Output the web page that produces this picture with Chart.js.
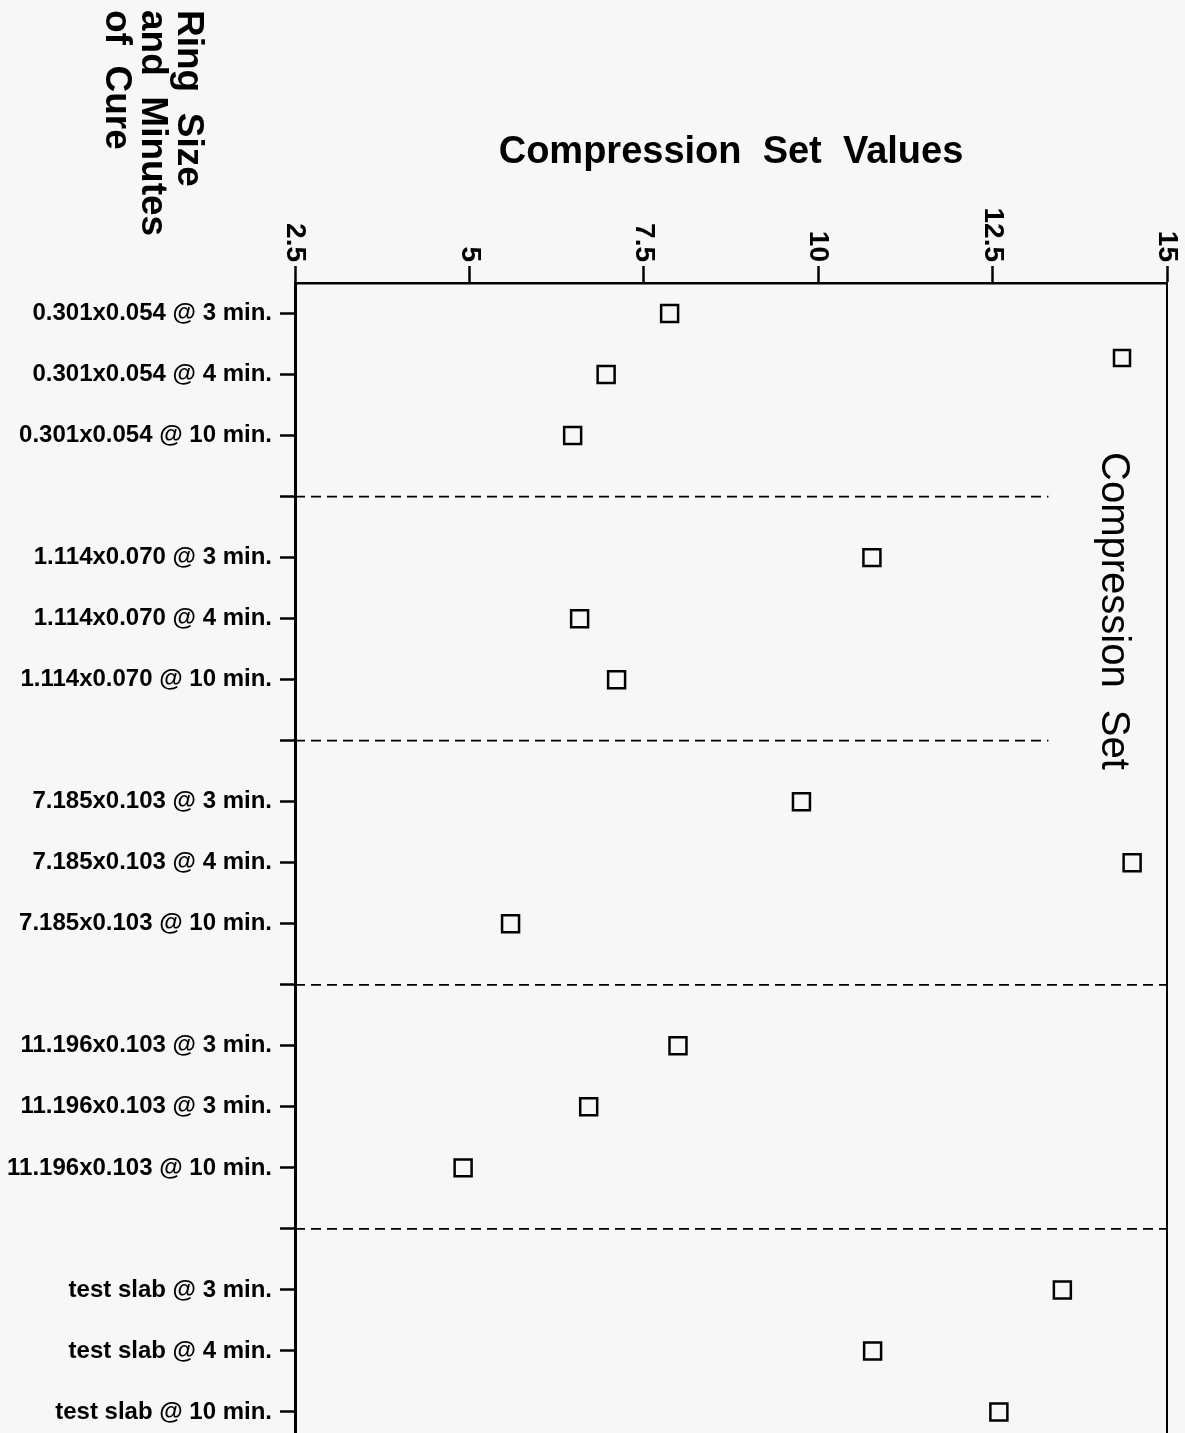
<!DOCTYPE html>
<html>
<head>
<meta charset="utf-8">
<title>Compression Set Values</title>
<script src="https://cdn.jsdelivr.net/npm/chart.js@4.4.1/dist/chart.umd.min.js"></script>
<style>
    html, body { margin: 0; padding: 0; background: #f7f7f7; overflow: hidden; }
    .contenedor { position: relative; width: 1185px; height: 1457px; }
</style>
</head>
<body>
<div class="contenedor"><canvas id="Grafico"></canvas></div>
<script>
const categorias = [
    '0.301x0.054 @ 3 min.', '0.301x0.054 @ 4 min.', '0.301x0.054 @ 10 min.',
    '1.114x0.070 @ 3 min.', '1.114x0.070 @ 4 min.', '1.114x0.070 @ 10 min.',
    '7.185x0.103 @ 3 min.', '7.185x0.103 @ 4 min.', '7.185x0.103 @ 10 min.',
    '11.196x0.103 @ 3 min.', '11.196x0.103 @ 3 min.', '11.196x0.103 @ 10 min.',
    'test slab @ 3 min.', 'test slab @ 4 min.', 'test slab @ 10 min.'
];
const valores = [7.87, 6.96, 6.48, 10.77, 6.58, 7.11, 9.76, 14.5, 5.59, 7.99, 6.71, 4.91, 13.5, 10.78, 12.59];
const ticksX = [2.5, 5, 7.5, 10, 12.5, 15];
const finSeparadores = [13.3, 13.3, 15, 15];
const tituloX = 'Compression  Set  Values';
const tituloY = ['Ring  Size', 'and  Minutes', 'of  Cure'];
const leyenda = 'Compression  Set';

const fuente = '"Liberation Sans", Arial, Helvetica, sans-serif';

// each group of 3 rows is followed by an empty slot for the dashed separator
function posicion(i) { return i + Math.floor(i / 3); }
const totalPosiciones = categorias.length + finSeparadores.length;

const etiquetasY = {};
categorias.forEach((c, i) => { etiquetasY[posicion(i)] = c; });

const puntos = categorias.map((c, i) => ({ x: valores[i], y: posicion(i) }));

const separadores = finSeparadores.map((fin, k) => ({
    label: 'sep' + k,
    data: [{ x: ticksX[0], y: 4 * k + 3 }, { x: fin, y: 4 * k + 3 }],
    showLine: true,
    borderColor: '#000',
    borderWidth: 1.8,
    borderDash: [10, 6],
    pointRadius: 0,
    fill: false
}));

const textosGirados = {
    id: 'textosGirados',
    afterDraw(chart) {
        const ctx = chart.ctx;
        const escalaX = chart.scales.x;
        const area = chart.chartArea;
        ctx.save();
        ctx.fillStyle = '#000';
        ctx.textBaseline = 'middle';

        // value tick labels, read top to bottom
        ctx.font = 'bold 28px ' + fuente;
        ctx.textAlign = 'right';
        ticksX.forEach(v => {
            const px = escalaX.getPixelForValue(v);
            ctx.save();
            ctx.translate(px, area.top - 21);
            ctx.rotate(Math.PI / 2);
            ctx.fillText(String(v), 0, 0);
            ctx.restore();
        });

        // category axis title
        ctx.font = 'bold 37px ' + fuente;
        ctx.textAlign = 'left';
        tituloY.forEach((linea, i) => {
            ctx.save();
            ctx.translate(188 - i * 36, 10);
            ctx.rotate(Math.PI / 2);
            ctx.fillText(linea, 0, 0);
            ctx.restore();
        });

        // legend
        ctx.strokeStyle = '#000';
        ctx.lineWidth = 2.5;
        ctx.strokeRect(1122 - 8, 358 - 8, 16, 16);
        ctx.font = '40px ' + fuente;
        ctx.save();
        ctx.translate(1113, 452);
        ctx.rotate(Math.PI / 2);
        ctx.fillText(leyenda, 0, 0);
        ctx.restore();

        ctx.restore();
    }
};

let ctx = document.getElementById('Grafico').getContext('2d');
let grafico = new Chart(ctx, {
    type: 'scatter',
    data: {
        datasets: [{
            label: 'Compression Set',
            data: puntos,
            pointStyle: 'rect',
            pointRadius: 12,
            borderWidth: 2.5,
            borderColor: '#000',
            backgroundColor: 'rgba(0,0,0,0)'
        }].concat(separadores)
    },
    options: {
        responsive: true,
        maintainAspectRatio: false,
        animation: false,
        events: [],
        layout: { padding: 0 },
        plugins: {
            legend: { display: false },
            tooltip: { enabled: false }
        },
        scales: {
            x: {
                type: 'linear',
                position: 'top',
                min: 2.5,
                max: 15,
                afterBuildTicks: s => { s.ticks = ticksX.map(v => ({ value: v })); },
                afterFit: s => { s.height = 283; s.paddingLeft = 0; s.paddingRight = 0; },
                ticks: { display: false },
                grid: { drawOnChartArea: false, drawTicks: true, tickLength: 17, tickWidth: 2.5, tickColor: '#000' },
                border: { display: true, color: '#000', width: 2.5 },
                title: {
                    display: true,
                    text: tituloX,
                    color: '#000',
                    font: { family: fuente, size: 38, weight: 'bold' },
                    padding: { top: 130, bottom: 0 }
                }
            },
            y: {
                type: 'linear',
                reverse: true,
                min: -0.5,
                max: totalPosiciones - 0.5,
                afterBuildTicks: s => {
                    s.ticks = Array.from({ length: totalPosiciones }, (_, p) => ({ value: p }));
                },
                afterFit: s => { s.width = 295; s.paddingTop = 0; s.paddingBottom = 0; },
                ticks: {
                    autoSkip: false,
                    padding: 8,
                    color: '#000',
                    font: { family: fuente, size: 24, weight: 'bold' },
                    callback: v => etiquetasY[v] || ''
                },
                grid: { drawOnChartArea: false, tickLength: 15, tickWidth: 2.5, tickColor: '#000' },
                border: { color: '#000', width: 3 }
            },
            y2: {
                type: 'linear',
                display: true,
                position: 'right',
                min: 0,
                max: 1,
                afterFit: s => { s.width = 18; s.paddingTop = 0; s.paddingBottom = 0; },
                ticks: { display: false },
                grid: { display: false },
                border: { display: true, color: '#000', width: 2 }
            }
        }
    },
    plugins: [textosGirados]
});
</script>
</body>
</html>
